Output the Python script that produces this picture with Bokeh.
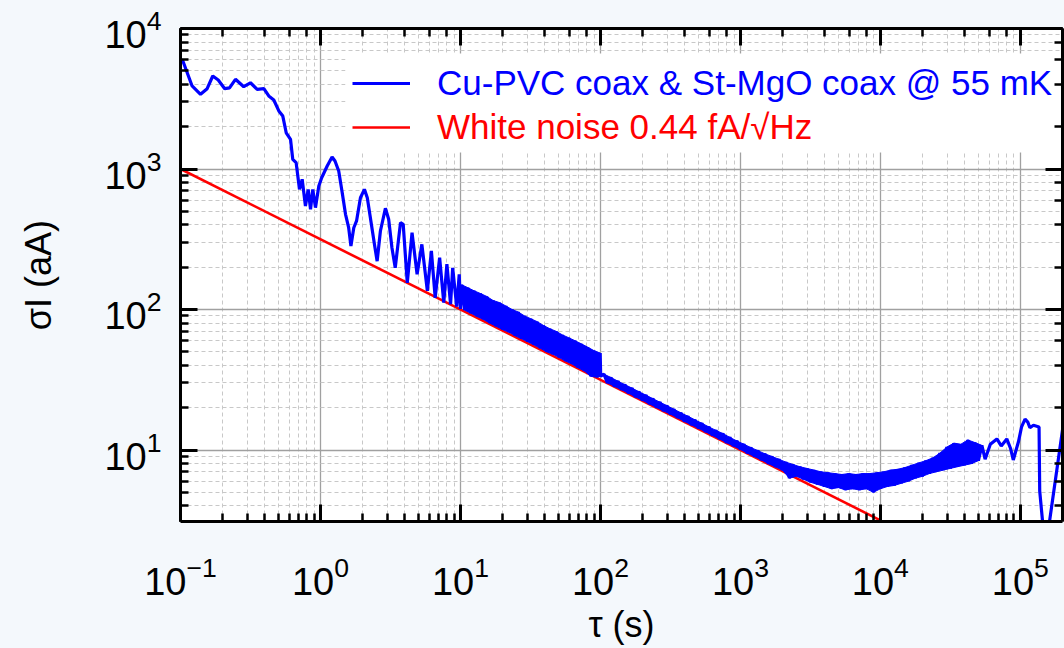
import math
from bokeh.plotting import figure
from bokeh.models import (Range1d, LogAxis, Legend, LegendItem, BoxAnnotation,
                          CustomJSTickFormatter)
from bokeh.embed import file_html
from bokeh.resources import INLINE

# ---------------- data ----------------
tau_osc = [0.1, 0.104, 0.121, 0.139, 0.155, 0.170, 0.186, 0.207, 0.224, 0.247, 0.283, 0.316,
           0.353, 0.394, 0.427, 0.464, 0.504, 0.538, 0.569, 0.611, 0.634, 0.670, 0.708, 0.740,
           0.781, 0.817, 0.849, 0.881, 0.921, 0.973, 1.02, 1.117, 1.21, 1.27, 1.35, 1.43, 1.51,
           1.59, 1.65, 1.73, 1.81, 1.93, 2.06, 2.16, 2.31, 2.44, 2.54, 2.68, 2.91, 3.07, 3.24,
           3.42, 3.73, 3.9, 4.17, 4.51, 4.9, 5.3, 5.8, 6.2, 6.6, 7.1, 7.6, 8.0, 8.5, 8.8, 9.4,
           9.8, 10.0]
sigma_osc = [6000, 5870, 3900, 3400, 3730, 4590, 4300, 3730, 3780, 4350, 3850, 4110,
             3690, 3730, 3310, 3100, 2590, 2380, 1810, 1625, 1172, 1110, 716, 845,
             546, 716, 517, 716, 531, 757, 867, 1050, 1217, 1140, 968, 678, 476,
             382, 283, 382, 427, 625, 716, 625, 404, 283, 221, 362, 525, 439, 275,
             198, 415, 404, 155, 352, 178, 291, 136, 261, 121, 234, 112, 210, 109, 198, 105,
             178, 101]

# 10 s .. 100 s: dense oscillation, alternating crest / trough
tau_band = [10.2, 10.7, 11.3, 11.9, 12.5, 13.2, 13.9, 14.6, 15.4, 16.2, 17.1, 18.0, 19.0, 20.0,
            21.1, 22.2, 23.4, 24.6, 25.9, 27.3, 28.7, 30.2, 31.8, 33.5, 35.3, 37.2, 39.2, 41.3,
            43.5, 45.8, 48.2, 50.8, 53.5, 56.3, 59.3, 62.5, 65.8, 69.3, 73.0, 76.9, 81.0, 85.3,
            89.8, 94.6, 99.6, 100.4]
sigma_band = [150, 99, 143, 94, 136, 89, 130, 85, 124, 80, 116, 76, 112, 72,
              106, 69, 100, 65, 96, 62, 90, 59, 86, 56, 82, 53, 77, 50,
              73, 48, 70, 45.5, 66, 43, 63, 41, 60, 38.5, 57, 36.5, 54, 33.5,
              51, 33, 49, 33.5]

# 100 s .. 1e4 s: thin noisy band, alternating upper / lower edge
tau_mid = [105.9, 112.2, 118.9, 125.9, 133.4, 141.3, 149.6, 158.5, 167.9, 177.8, 188.4, 199.5,
           211.3, 223.9, 237.1, 251.2, 266.1, 281.8, 298.5, 316.2, 335.0, 354.8, 375.8, 398.1,
           421.7, 446.7, 473.2, 501.2, 530.9, 562.3, 595.7, 631.0, 668.3, 707.9, 749.9, 794.3,
           841.4, 891.3, 944.1, 1000,
           1059, 1122, 1189, 1259, 1334, 1413, 1496, 1585, 1679, 1778, 1884, 1995, 2113, 2239,
           2371, 2512, 2661, 2818, 2985, 3162, 3350, 3548, 3758, 3981, 4217, 4467, 4732, 5012,
           5309, 5623, 5957, 6310, 6683, 7079, 7499, 7943, 8414, 8913, 9441, 10000]
sigma_mid = [34.7, 30.1, 32.8, 28.4, 30.9, 26.9, 29.2, 25.4, 27.6, 23.9, 26.0, 22.6,
             24.6, 21.3, 23.2, 20.1, 21.9, 19.0, 20.7, 18.0, 19.5, 17.0, 18.4, 16.0,
             17.4, 15.1, 16.4, 14.3, 15.5, 13.5, 14.6, 12.7, 13.8, 12.0, 13.1, 11.3,
             12.3, 10.7, 11.6, 10.1,
             11.0, 9.5, 10.4, 9.0, 9.9, 8.5, 9.4, 8.0, 9.0, 7.6, 8.6, 7.2, 8.2, 6.3,
             7.9, 6.5, 7.6, 6.2, 7.4, 5.9, 7.2, 5.7, 7.0, 5.5, 6.9, 5.3, 6.8, 5.4,
             6.7, 5.2, 6.8, 5.3, 6.7, 5.2, 6.8, 5.3, 6.8, 5.0, 6.9, 5.3]

# 1e4 s .. end (first 29 points alternate upper / lower edge)
tau_long = [10590, 11220, 11890, 12590, 13340, 14130, 14960, 15850, 16790, 17780, 18840, 19950,
            21130, 22390, 23710, 25120, 26610, 28180, 29850, 31620, 33500, 35480, 37580, 39810,
            42170, 44670, 47320, 50120, 53090, 56000, 61000, 68000, 73000, 80000, 85000, 89000,
            97000, 102000, 108000, 113000, 117000, 124000, 136000, 137500, 145000, 150000,
            160000, 200000, 205000]
sigma_long = [7.0, 5.5, 7.2, 5.6, 7.3, 5.8, 7.5, 6.0, 7.8, 6.3, 8.1, 6.5,
              8.4, 6.8, 8.8, 7.0, 9.5, 7.2, 10.5, 7.4, 11.2, 7.6, 11.0, 7.8,
              11.8, 8.0, 11.3, 8.4, 10.8, 8.6, 11.0, 12.0, 10.7, 12.0, 10.3, 8.5,
              11.5, 14.6, 16.6, 15.8, 14.4, 15.0, 14.6, 5.1, 2.9, 2.0,
              2.9, 13.9, 16.0]

tau_white = [0.1, 10000]
sigma_white = [1000, 3.16]

legend_labels = ["Cu-PVC coax & St-MgO coax @ 55 mK", "White noise 0.44 fA/\u221aHz"]
x_title = "\u03c4 (s)"
y_title = "\u03c3I (aA)"

tau_blue = tau_osc + tau_band + tau_mid + tau_long
sigma_blue = sigma_osc + sigma_band + sigma_mid + sigma_long

# ---------------- figure ----------------
BG = "#f4f8fc"
FONT = "Liberation Sans"
X0, X1, Y0, Y1 = 0.1, 2e5, 3.1, 1e4
FL, FT, FW, FH = 180, 28, 882, 493      # frame left/top/width/height on the page

p = figure(frame_width=FW, frame_height=FH,
           x_axis_type="log", y_axis_type="log",
           x_range=Range1d(X0, X1), y_range=Range1d(Y0, Y1),
           output_backend="svg", toolbar_location=None,
           min_border_left=FL, min_border_right=2, min_border_top=FT, min_border_bottom=127)
p.border_fill_color = BG
p.background_fill_color = "white"
p.outline_line_color = None

top = LogAxis()
right = LogAxis()
p.add_layout(top, "above")
p.add_layout(right, "right")
bottom = p.below[0]
left = p.left[0]

for ax in [bottom, left, top, right]:
    ax.axis_line_width = 3
    ax.axis_line_color = "black"
    ax.major_tick_in = 17
    ax.major_tick_out = 0
    ax.minor_tick_in = 8
    ax.minor_tick_out = 0
    ax.major_tick_line_width = 3
    ax.minor_tick_line_width = 2.5
    ax.major_tick_line_color = "black"
    ax.minor_tick_line_color = "black"
    ax.major_label_text_font = FONT
    ax.major_label_text_font_size = "38px"
    ax.major_label_text_color = "black"

for ax in [top, right]:
    ax.formatter = CustomJSTickFormatter(code="return ''")
    ax.major_label_standoff = 0

bottom.major_label_standoff = 34
left.major_label_standoff = 19

bottom.axis_label = x_title
left.axis_label = y_title
bottom.axis_label_standoff = 6
left.axis_label_standoff = 42
for ax in [bottom, left]:
    ax.axis_label_text_font = FONT
    ax.axis_label_text_font_size = "36px"
    ax.axis_label_text_font_style = "normal"
    ax.axis_label_text_color = "black"

for g in [p.xgrid[0], p.ygrid[0]]:
    g.grid_line_color = "#a0a0a0"
    g.grid_line_width = 1.3
    g.minor_grid_line_color = "#c8c8c8"
    g.minor_grid_line_width = 1
    g.minor_grid_line_dash = "4 3"


def px_to_x(px):
    lx0, lx1 = math.log10(X0), math.log10(X1)
    return 10 ** (lx0 + (px - FL) / FW * (lx1 - lx0))


def py_to_y(py):
    ly0, ly1 = math.log10(Y0), math.log10(Y1)
    return 10 ** (ly1 - (py - FT) / FH * (ly1 - ly0))


# white box behind the legend (hides the grid there)
p.add_layout(BoxAnnotation(left=px_to_x(345), right=X1, bottom=py_to_y(152), top=py_to_y(53),
                           fill_color="white", fill_alpha=1, line_color=None,
                           level="underlay"))

red = p.line(tau_white, sigma_white, line_color="#ff0000", line_width=2.6)

# filled envelopes of the noisy stretches (crest points forward, trough points back)
band_x = tau_band[0::2] + tau_band[1::2][::-1]
band_y = sigma_band[0::2] + sigma_band[1::2][::-1]
p.patch(band_x, band_y, fill_color="#0000ff", line_color="#0000ff", line_width=1)

noisy_tau = tau_mid + tau_long[:29]
noisy_sig = sigma_mid + sigma_long[:29]
noise_x = noisy_tau[0::2] + noisy_tau[1::2][::-1]
noise_y = noisy_sig[0::2] + noisy_sig[1::2][::-1]
p.patch(noise_x, noise_y, fill_color="#0000ff", line_color="#0000ff", line_width=1)

blue = p.line(tau_blue, sigma_blue, line_color="#0000ff", line_width=3.2)


def make_legend(item, renderer, color, vy):
    lg = Legend(items=[LegendItem(label=item, renderers=[renderer])],
                location=(172, vy), padding=0, margin=0, spacing=0,
                glyph_width=58, glyph_height=40, label_height=40,
                label_standoff=27, border_line_color=None,
                background_fill_alpha=0,
                label_text_font=FONT, label_text_font_size="35px",
                label_text_color=color)
    p.add_layout(lg)


make_legend(legend_labels[0], blue, "#0000ff", 418)
make_legend(legend_labels[1], red, "#ff0000", 374)

html = file_html(p, INLINE)
html = html.replace("</head>",
                    "<style>html,body{background:%s;overflow:hidden;}</style></head>" % BG, 1)
open("out.html", "w").write(html)
